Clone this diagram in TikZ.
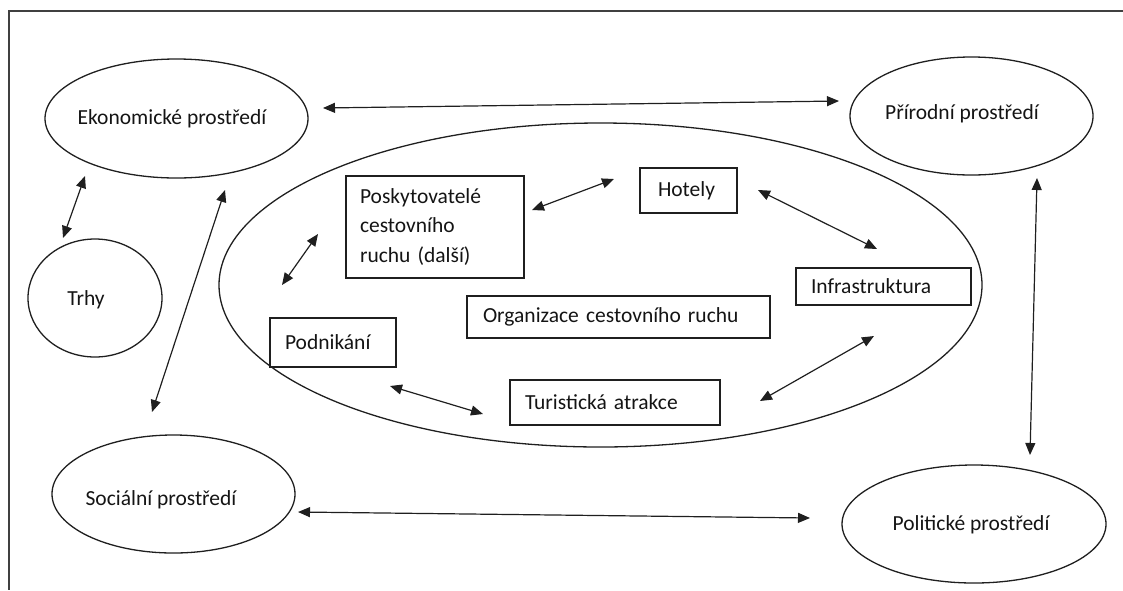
\documentclass[tikz,border=0pt]{standalone}
\usepackage{fontspec}
\setmainfont{Carlito}
\usetikzlibrary{shapes.geometric,arrows.meta}
\begin{document}
\begin{tikzpicture}[x=1pt,y=-1pt,
  every node/.style={font=\fontsize{21.5}{29.5}\selectfont, text=black!92},
  oval/.style={ellipse, draw=black!88, line width=1.3pt, inner sep=0pt, outer sep=0pt},
  lbl/.style={inner sep=0pt},
  box/.style={rectangle, draw=black!88, line width=1.3pt, anchor=north west, align=left, inner ysep=0pt, outer sep=0pt},
  link/.style={line width=1.2pt, black!88, {Triangle[length=12pt,width=10pt]}-{Triangle[length=12pt,width=10pt]}}
]
\useasboundingbox (0,0) rectangle (1123,590);
% frame
\coordinate (fr1) at (1123,11);
\coordinate (fr2) at (9,11);
\coordinate (fr3) at (9,590);
\draw[line width=1.3pt, black!75] (fr1) -- (fr2) -- (fr3);

% outer ellipses
\node[oval, minimum width=263pt, minimum height=119pt] (eko) at (176.5,118.5) {};
\node[lbl] (ekot) at (172,119) {Ekonomické prostředí};
\node[oval, minimum width=243pt, minimum height=118pt] (pri) at (971.5,116) {};
\node[lbl] (prit) at (962,114) {Přírodní prostředí};
\node[oval, minimum width=243pt, minimum height=118pt] (soc) at (173.5,494) {};
\node[lbl] (soct) at (161,500) {Sociální prostředí};
\node[oval, minimum width=264pt, minimum height=118pt] (pol) at (974,524) {};
\node[lbl] (polt) at (971,525) {Politické prostředí};
\node[oval, minimum width=134pt, minimum height=118pt] (trh) at (95,298) {};
\node[lbl] (trht) at (86,300) {Trhy};

% big ellipse
\node[oval, minimum width=763pt, minimum height=324pt] (org) at (600.5,285) {};

% boxes
\node[box, minimum width=178pt, minimum height=102pt, text width=150pt, inner xsep=14pt] (posk) at (346,176) {Poskytovatelé\\cestovního\\ruchu (další)};
\node[box, minimum width=97pt, minimum height=45pt, text width=61pt, inner xsep=18pt] (hot) at (640,168) {Hotely};
\node[box, minimum width=175pt, minimum height=37pt, text width=145pt, inner xsep=15pt] (inf) at (796,268) {Infrastruktura};
\node[box, minimum width=303pt, minimum height=42pt, text width=271pt, inner xsep=16pt] (orgc) at (467,296) {Organizace cestovního ruchu};
\node[box, minimum width=126pt, minimum height=49pt, text width=96pt, inner xsep=15pt] (pod) at (270,318) {Podnikání};
\node[box, minimum width=210pt, minimum height=45pt, text width=180pt, inner xsep=15pt] (tur) at (510,380) {Turistická atrakce};

% arrow end points
\coordinate (a1s) at (323,108); \coordinate (a1e) at (839,101);
\coordinate (a2s) at (298,512); \coordinate (a2e) at (810,518);
\coordinate (a3s) at (1037,178); \coordinate (a3e) at (1030,455);
\coordinate (a4s) at (85,176); \coordinate (a4e) at (63,238);
\coordinate (a5s) at (225,190); \coordinate (a5e) at (152,412);
\coordinate (b1s) at (532,210); \coordinate (b1e) at (614,179);
\coordinate (b2s) at (318,234); \coordinate (b2e) at (282,285);
\coordinate (b3s) at (390,386); \coordinate (b3e) at (483,414);
\coordinate (b4s) at (758,190); \coordinate (b4e) at (877,249);
\coordinate (b5s) at (874,336); \coordinate (b5e) at (760,401);

\draw[link] (a1s) -- (a1e);
\draw[link] (a2s) -- (a2e);
\draw[link] (a3s) -- (a3e);
\draw[link] (a4s) -- (a4e);
\draw[link] (a5s) -- (a5e);
\draw[link] (b1s) -- (b1e);
\draw[link] (b2s) -- (b2e);
\draw[link] (b3s) -- (b3e);
\draw[link] (b4s) -- (b4e);
\draw[link] (b5s) -- (b5e);
\end{tikzpicture}
\end{document}
